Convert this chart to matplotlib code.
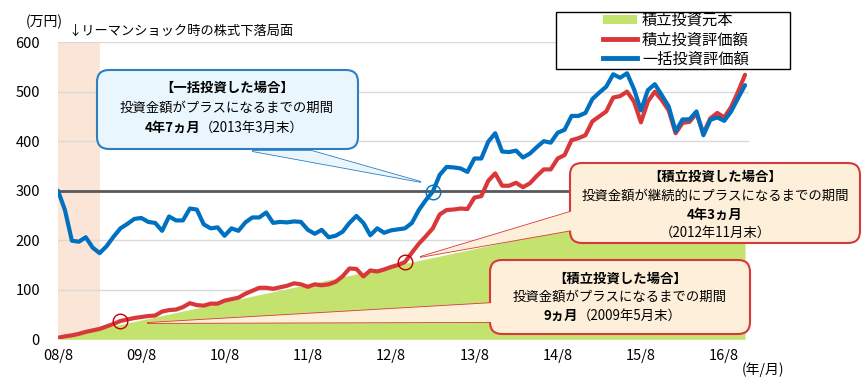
import matplotlib
matplotlib.use("Agg")
import matplotlib.pyplot as plt
from matplotlib import transforms
from matplotlib.patches import FancyBboxPatch, Polygon, Rectangle, Patch
from matplotlib.lines import Line2D

plt.rcParams['font.family'] = ['Noto Sans CJK JP', 'DejaVu Sans']

W, H = 863, 390

# monthly data, 2008/8 .. 2016/11 (万円)
months = list(range(100))
principal = [3, 6, 9, 12, 15, 18, 21, 24, 27, 30, 33, 36, 39, 42, 45, 48, 51, 54, 57, 60,
             63, 66, 69, 72, 75, 78, 81, 84, 87, 90, 93, 96, 99, 102, 105, 108, 111, 114, 117, 120,
             123, 126, 129, 132, 135, 138, 141, 144, 147, 150, 153, 156, 159, 162, 165, 168, 171, 174, 177, 180,
             183, 186, 189, 192, 195, 198, 201, 204, 207, 210, 213, 216, 219, 222, 225, 228, 231, 234, 237, 240,
             243, 246, 249, 252, 255, 258, 261, 264, 267, 270, 273, 276, 279, 282, 285, 288, 291, 294, 297, 300]
tsumitate = [3, 6, 8, 11, 15, 18, 21, 26, 31, 37,
             40, 43, 45, 47, 48, 56, 59, 60, 65, 73,
             69, 68, 72, 72, 78, 81, 84, 92, 98, 104,
             104, 102, 105, 108, 113, 111, 106, 111, 109, 111,
             116, 127, 143, 142, 127, 139, 137, 141, 146, 150,
             156, 175, 193, 208, 224, 252, 261, 262, 264, 263,
             286, 289, 320, 335, 310, 310, 316, 307, 315, 330,
             343, 343, 365, 372, 402, 406, 412, 440, 450, 460,
             488, 491, 500, 480, 438, 480, 500, 483, 462, 416,
             437, 439, 456, 416, 446, 457, 448, 469, 500, 534]
ikkatsu = [300, 261, 199, 197, 206, 185, 174, 188, 207, 224,
           233, 243, 245, 237, 235, 219, 248, 240, 240, 264,
           262, 232, 224, 226, 209, 224, 219, 236, 246, 246,
           256, 235, 237, 236, 238, 237, 221, 213, 221, 206,
           209, 217, 235, 249, 235, 210, 224, 215, 220, 222,
           224, 235, 261, 281, 298, 332, 348, 347, 345, 338,
           365, 365, 399, 416, 379, 378, 381, 367, 375, 388,
           400, 397, 417, 423, 451, 451, 457, 485, 498, 510,
           535, 528, 537, 505, 462, 503, 515, 493, 470, 420,
           444, 444, 460, 412, 443, 448, 441, 460, 487, 513]
lump_sum = 300
shock_span = (0, 6)
xtick_months = [0, 12, 24, 36, 48, 60, 72, 84, 96]
xtick_labels = ['08/8', '09/8', '10/8', '11/8', '12/8', '13/8', '14/8', '15/8', '16/8']
mark_ikkatsu = 54
mark_tsumi_cont = 50
mark_tsumi_first = 9

c_blue = '#0070C0'
c_red = '#D9383A'
c_green = '#C4E26E'

fig = plt.figure(figsize=(W / 100, H / 100), dpi=100)
ax = fig.add_axes([58 / W, (H - 339.3) / H, 690.5 / W, 297.2 / H])

ax.axvspan(*shock_span, color='#FBE5D6', lw=0, zorder=0)
ax.fill_between(months, 0, principal, color=c_green, lw=0, zorder=1)
ax.axhline(lump_sum, color='#595959', lw=2, zorder=2)
ax.plot(months, tsumitate, color=c_red, lw=3, zorder=3, solid_capstyle='round')
ax.plot(months, ikkatsu, color=c_blue, lw=3, zorder=4, solid_capstyle='round')

ax.plot(mark_ikkatsu, ikkatsu[mark_ikkatsu], 'o', ms=10.5, mfc='none', mec=c_blue, mew=1, zorder=6)
ax.plot(mark_tsumi_cont, tsumitate[mark_tsumi_cont], 'o', ms=10.5, mfc='none', mec='#C00000', mew=1, zorder=6)
ax.plot(mark_tsumi_first, tsumitate[mark_tsumi_first], 'o', ms=10.5, mfc='none', mec='#C00000', mew=1, zorder=6)

ax.set_xlim(0, 99.5)
ax.set_ylim(0, 600)
ax.set_yticks(range(0, 601, 100))
ax.set_xticks(xtick_months)
ax.set_xticklabels(xtick_labels)
ax.tick_params(axis='y', length=0, pad=13, labelsize=10.5, colors='#000000')
ax.tick_params(axis='x', length=0, pad=7, labelsize=10.5)
ax.grid(axis='y', color='#D9D9D9', lw=1, zorder=0)
ax.set_axisbelow(True)
for s in ax.spines.values():
    s.set_visible(False)

fig.text(44 / W, 1 - 22 / H, '(万円)', ha='center', va='center', fontsize=10)
fig.text(68 / W, 1 - 31 / H, '↓リーマンショック時の株式下落局面', ha='left', va='center', fontsize=9.5)
fig.text(763 / W, 1 - 370 / H, '(年/月)', ha='center', va='center', fontsize=10)

# pixel transform, origin top-left
pix = transforms.Affine2D().scale(1, -1).translate(0, H) + transforms.IdentityTransform()


def callout(box, tail, face, edge):
    x0, y0, x1, y1 = box
    fig.patches.append(Polygon(tail, closed=True, transform=pix, fc=face, ec=edge, lw=1.2, zorder=7))
    fig.patches.append(FancyBboxPatch((x0, y0), x1 - x0, y1 - y0,
                                      boxstyle='round,pad=0,rounding_size=12',
                                      transform=pix, fc=face, ec=edge, lw=1.5, zorder=8))
    fig.patches.append(Polygon(tail, closed=True, transform=pix, fc=face, ec='none', lw=0, zorder=9))


def ftext(x, y, s, **kw):
    fig.text(x / W, 1 - y / H, s, va='center', fontsize=9.6, zorder=10, **kw)


# lump-sum callout
callout((97, 70, 358, 149), [(252, 151), (312, 151), (421, 182)], '#EAF6FD', '#2E7EC1')
ftext(227, 88, '【一括投資した場合】', ha='center', fontweight='bold')
ftext(227, 108, '投資金額がプラスになるまでの期間', ha='center')
ftext(200, 128, '4年7ヵ月', ha='right', fontweight='bold')
ftext(200, 128, '（2013年3月末）', ha='left')

# tsumitate continuous callout
callout((570, 163, 860, 243), [(573, 211), (573, 230), (420, 257)], '#FDEFD9', c_red)
ftext(715, 177, '【積立投資した場合】', ha='center', fontweight='bold')
ftext(715, 196, '投資金額が継続的にプラスになるまでの期間', ha='center')
ftext(715, 215, '4年3ヵ月', ha='center', fontweight='bold')
ftext(715, 233, '（2012年11月末）', ha='center')

# tsumitate first callout
callout((490, 260, 750, 334), [(493, 303), (493, 322), (147, 323)], '#FDEFD9', c_red)
ftext(620, 279, '【積立投資した場合】', ha='center', fontweight='bold')
ftext(620, 297, '投資金額がプラスになるまでの期間', ha='center')
ftext(578, 316, '9ヵ月', ha='right', fontweight='bold')
ftext(578, 316, '（2009年5月末）', ha='left')

# legend
fig.patches.append(Rectangle((556, 12), 234, 57, transform=pix, fc='white', ec='black', lw=1, zorder=11))
handles = [Patch(fc=c_green, ec='none'),
           Line2D([], [], color=c_red, lw=3.5),
           Line2D([], [], color=c_blue, lw=3.5)]
labels = ['積立投資元本', '積立投資評価額', '一括投資評価額']
leg = fig.legend(handles, labels, loc='upper left', bbox_to_anchor=(603 / W, 1 - 12 / H),
                 bbox_transform=fig.transFigure, frameon=False, fontsize=11,
                 handlelength=2.2, handleheight=0.6, handletextpad=0.35,
                 labelspacing=0.15, borderpad=0, borderaxespad=0)
leg.set_zorder(12)

fig.savefig('out.png', dpi=100)
